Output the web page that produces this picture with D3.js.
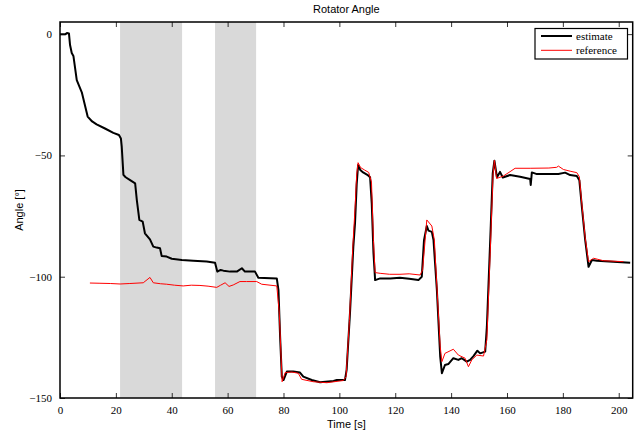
<!DOCTYPE html>
<html>
<head>
<meta charset="utf-8">
<script src="https://cdn.jsdelivr.net/npm/d3@7"></script>
<style>
html,body{margin:0;padding:0;background:#fff;}
svg{display:block;}
</style>
</head>
<body>
<svg id="chart" width="644" height="432"></svg>
<script>
const title = "Rotator Angle";
const xLabel = "Time [s]";
const yLabel = "Angle [°]";
const xTicks = [0,20,40,60,80,100,120,140,160,180,200];
const yTicks = [0,-50,-100,-150];
const shadeStart = [21.5, 55.5];
const shadeEnd = [43.7, 70.2];
const seriesNames = ["estimate","reference"];

const estTime = [0,2.0,2.5,3.2,3.6,4.2,4.8,6.0,7.8,9.9,11.5,13.1,16.1,19.1,21.1,21.8,22.1,22.7,23.5,25.1,26.9,27.5,28.4,29.6,30.4,32.2,33.4,34.6,35.8,36.4,38.2,40,43.6,47.7,52.5,55.5,56.3,57.5,58.5,60.9,63.3,65.1,66.2,69.8,71,77.6,78.2,78.8,79.4,80,81.2,83.5,85.9,87.1,90.1,93.1,97.9,99.1,102,102.6,103.8,105,105.6,106.2,106.7,107.5,108.5,110,111,111.6,112.2,112.8,114.6,118.2,121.7,125,128.3,129.5,130.3,131.3,131.9,133.1,133.7,134.9,136.1,136.7,137.8,139,140.8,142.6,143.8,145.6,146.8,148,149.4,150.4,152.2,152.8,154,154.9,155.5,156.4,157.5,158.5,161.1,164.7,168.3,168.5,168.9,170.7,178.4,180.8,182.6,185,185.9,186.8,188,189.2,190.4,192.2,198,204.1];
const estAngle = [0,0,0.5,0.3,-4.5,-7.8,-9,-19,-24,-34,-36,-37.2,-38.9,-40.7,-41.6,-43,-46.4,-58,-59,-60.2,-61.5,-68.4,-76.6,-77.3,-82.1,-84.6,-87.6,-88,-88.3,-91.5,-91.7,-92.6,-93.1,-93.4,-93.7,-94.2,-97.9,-97.2,-97.5,-97.9,-97.9,-96.5,-97.9,-97.9,-100.4,-100.7,-105.5,-125,-141.2,-142.6,-139.1,-139.1,-139.5,-141.2,-142.6,-143.5,-143,-142.6,-142.6,-138.4,-115,-87.6,-78,-62,-54,-56,-57,-58,-59,-70,-90,-101.4,-100.7,-100.7,-100.4,-100.8,-101.4,-100,-84.9,-79.1,-81,-81.5,-84.9,-105.5,-133,-139.8,-136.4,-136,-133.6,-134.3,-133.6,-135,-134.3,-132.7,-130.5,-131.6,-130.9,-120.6,-84.9,-57.4,-52.2,-59,-56.8,-59.1,-58.1,-58.8,-59.7,-62.2,-57,-57.7,-57.7,-57.1,-58.1,-58.5,-60.2,-71.2,-84.9,-95.9,-93.1,-93.4,-93.8,-94.2];

const refTime = [10.7,14.3,18,21.5,25,29.8,32.2,33.4,36,38.2,41,44.1,47,50.1,53,56.1,57.5,59.1,60.5,62,64.4,66.8,70.4,72.2,77.6,78.5,79.5,80.6,83,85.3,86.5,90.7,95.5,101.4,102.4,103.6,104.8,105.6,106.2,106.7,107.6,109,110.5,111.5,112.2,112.8,114.6,118,121.7,125,128.9,129.8,131.3,133.1,134,136.1,136.7,137.8,140.8,142.6,145,146.2,147.4,149.2,151.6,152.8,154,155,155.5,156.3,158.7,161.1,162.9,168.3,175,177.8,178.4,180.2,182.6,185,185.9,186.8,188,189.2,191,194.5,201.7];
const refAngle = [-102.6,-102.7,-102.8,-103,-102.8,-102.5,-100.3,-102.5,-102.9,-103.1,-103.5,-103.8,-103.5,-103.6,-103.9,-104.4,-103.5,-102.5,-104,-103.4,-102,-102,-102,-103.1,-103.8,-115,-143.3,-139.5,-139.3,-139.8,-142.3,-143.3,-143.7,-142.8,-141.2,-118,-88,-72,-58,-53,-55,-56,-57,-61,-85,-98.3,-98.6,-99,-99,-98.8,-99.3,-97.2,-76.6,-79.1,-84.9,-128.8,-135,-131.6,-129.9,-132.3,-133.6,-137.1,-134.3,-132.3,-132.7,-126,-90,-58,-52,-59.5,-58.5,-56.7,-55.3,-55.3,-55.2,-54.9,-54.4,-55.8,-56.5,-57.1,-58.8,-70,-84,-93.8,-92.4,-93.4,-93.8];

const W = 644, H = 432;
const margin = {left: 60, top: 22, right: 11.3, bottom: 34};
const svg = d3.select("#chart");
const x = d3.scaleLinear().domain([0, 205]).range([margin.left, W - margin.right]);
const y = d3.scaleLinear().domain([-150, 5]).range([H - margin.bottom, margin.top]);

// shaded regions
svg.append("g").selectAll("rect").data(shadeStart.map((s,i)=>[s, shadeEnd[i]])).join("rect")
  .attr("x", d => x(d[0])).attr("width", d => x(d[1]) - x(d[0]))
  .attr("y", y(5)).attr("height", y(-150) - y(5))
  .attr("fill", "#d9d9d9");

const serif = "'Liberation Serif', 'Times New Roman', serif";
const sans = "'Liberation Sans', Arial, sans-serif";

const est = estTime.map((t,i)=>[t, estAngle[i]]);
const ref = refTime.map((t,i)=>[t, refAngle[i]]);
const line = d3.line().x(d => x(d[0])).y(d => y(d[1]));

const plot = svg.append("g");
plot.append("path").datum(est).attr("d", line).attr("fill","none")
  .attr("stroke","#000").attr("stroke-width",2).attr("stroke-linejoin","round");
plot.append("path").datum(ref).attr("d", line).attr("fill","none")
  .attr("stroke","#ff0000").attr("stroke-width",1).attr("stroke-linejoin","round");

// axes (ticks inward)
const fmt = d => d < 0 ? "\u2212" + Math.abs(d) : String(d);
const styleAxis = g => {
  g.select(".domain").remove();
  g.selectAll(".tick line").attr("stroke","#000").attr("stroke-width",0.8);
  g.selectAll(".tick text").attr("font-family", serif).attr("font-size", 11).attr("fill","#000");
};
svg.append("g").attr("transform",`translate(0,${y(-150)})`)
  .call(d3.axisBottom(x).tickValues(xTicks).tickFormat(fmt).tickSizeInner(-5).tickSizeOuter(0).tickPadding(8))
  .call(styleAxis);
svg.append("g").attr("transform",`translate(0,${y(5)})`)
  .call(d3.axisTop(x).tickValues(xTicks).tickFormat("").tickSizeInner(-5).tickSizeOuter(0))
  .call(styleAxis);
svg.append("g").attr("transform",`translate(${x(0)},0)`)
  .call(d3.axisLeft(y).tickValues(yTicks).tickFormat(fmt).tickSizeInner(-5).tickSizeOuter(0).tickPadding(8))
  .call(styleAxis);
svg.append("g").attr("transform",`translate(${x(205)},0)`)
  .call(d3.axisRight(y).tickValues(yTicks).tickFormat("").tickSizeInner(-5).tickSizeOuter(0))
  .call(styleAxis);

// frame
svg.append("rect").attr("x", x(0)).attr("y", y(5))
  .attr("width", x(205) - x(0)).attr("height", y(-150) - y(5))
  .attr("fill","none").attr("stroke","#000").attr("stroke-width",1.5);

// title and labels
svg.append("text").attr("x", (x(0)+x(205))/2).attr("y", 13).attr("text-anchor","middle")
  .attr("font-family", sans).attr("font-size", 11).text(title);
svg.append("text").attr("x", (x(0)+x(205))/2).attr("y", 428).attr("text-anchor","middle")
  .attr("font-family", sans).attr("font-size", 11).text(xLabel);
svg.append("text").attr("transform", `translate(23,${(y(5)+y(-150))/2}) rotate(-90)`).attr("text-anchor","middle")
  .attr("font-family", sans).attr("font-size", 11).text(yLabel);

// legend
const lg = svg.append("g");
lg.append("rect").attr("x", 535).attr("y", 28.5).attr("width", 92.5).attr("height", 30.5)
  .attr("fill","#fff").attr("stroke","#000").attr("stroke-width",1.2);
const legColors = ["#000","#ff0000"], legWidths = [2,1];
seriesNames.forEach((n,i) => {
  const ly = 36 + i*14.3;
  lg.append("line").attr("x1",541).attr("x2",572).attr("y1",ly).attr("y2",ly)
    .attr("stroke",legColors[i]).attr("stroke-width",legWidths[i]);
  lg.append("text").attr("x",576).attr("y",ly+3.8).attr("font-family",serif).attr("font-size",11).text(n);
});
</script>
</body>
</html>
